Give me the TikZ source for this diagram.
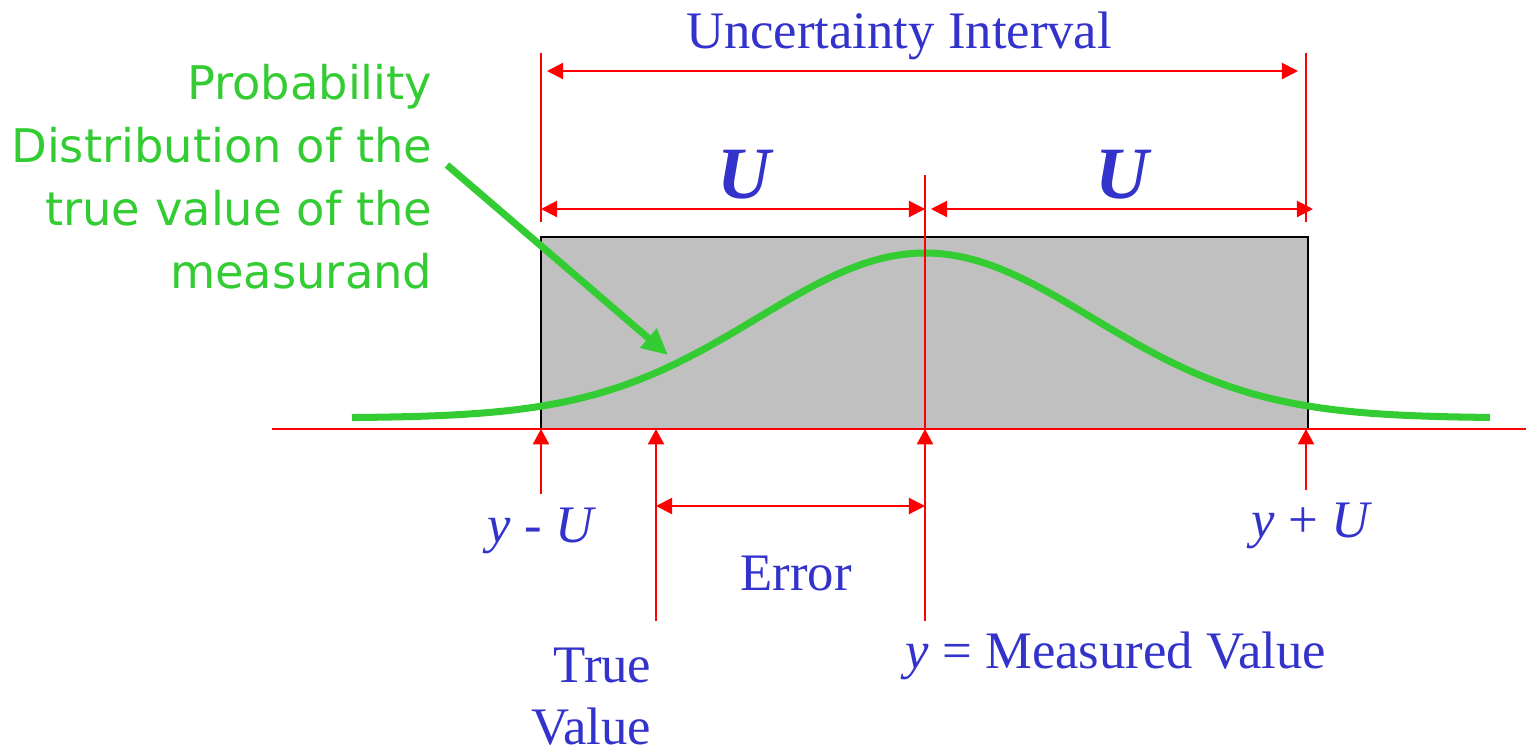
\documentclass[tikz,border=0pt]{standalone}
\usepackage{fontspec}
\setmainfont{Liberation Serif}
\newfontfamily\labelsans{DejaVu Sans}
\usetikzlibrary{arrows.meta, positioning}
\definecolor{txtblue}{RGB}{51,51,204}
\definecolor{pdfgreen}{RGB}{51,204,51}
\definecolor{bandgray}{RGB}{192,192,192}
\tikzstyle{redline} = [red, line width=0.6pt]

\begin{document}
\begin{tikzpicture}[
  dim/.style={redline, {Triangle[length=4.6pt, width=4.6pt]}-{Triangle[length=4.6pt, width=4.6pt]}},
  uparrow/.style={redline, -{Triangle[length=4.4pt, width=4.6pt]}},
  lbl/.style={txtblue, inner sep=0pt, font=\fontsize{15}{17.6}\selectfont},
  ulbl/.style={txtblue, inner sep=0pt, font=\fontsize{21}{24}\selectfont\bfseries\itshape},
  greenlbl/.style={pdfgreen, inner sep=0pt, align=right, font=\labelsans\fontsize{13.2}{17.9}\selectfont}
]
\useasboundingbox (0,0) rectangle (15.26,7.52);

% Shaded interval
\fill[bandgray] (5.41,3.23) rectangle (13.08,5.15);
\draw[black, line width=0.8pt] (5.41,3.23) rectangle (13.08,5.15);

% Points on the axis
\coordinate (ax l) at (2.72,3.23);
\coordinate (ax r) at (15.26,3.23);
\coordinate (yl) at (5.41,3.23);
\coordinate (tv) at (6.56,3.23);
\coordinate (ym) at (9.25,3.23);
\coordinate (yr) at (13.06,3.23);

% Free ends of the red lines
\coordinate (lt) at (5.41,6.99);
\coordinate (lb) at (5.41,5.30);
\coordinate (rt) at (13.06,6.99);
\coordinate (rb) at (13.06,5.30);
\coordinate (mt) at (9.25,5.77);
\coordinate (mb) at (9.25,1.31);
\coordinate (yl b) at (5.41,2.58);
\coordinate (tv b) at (6.56,1.31);
\coordinate (yr b) at (13.06,2.62);
\coordinate (ui l) at (5.41,6.81);
\coordinate (ui r) at (13.06,6.81);
\coordinate (ul l) at (5.41,5.43);
\coordinate (ul r) at (9.25,5.43);
\coordinate (ur l) at (9.31,5.43);
\coordinate (ur r) at (13.13,5.43);
\coordinate (er l) at (6.56,2.46);
\coordinate (er r) at (9.25,2.46);

% Axis
\draw[redline] (ax l) -- (ax r);

% Probability distribution
\draw[pdfgreen, line width=2pt, domain=3.52:14.90, samples=120, smooth]
  plot (\x, {3.34+1.65*exp(-((\x-9.25)^2)/5.6)});

% Limits and dimension arrows
\draw[redline] (lt) -- (lb);
\draw[redline] (rt) -- (rb);
\draw[redline] (mt) -- (ym);
\draw[dim, shorten <=0.06cm, shorten >=0.08cm] (ui l) -- (ui r);
\draw[dim] (ul l) -- (ul r);
\draw[dim] (ur l) -- (ur r);
\draw[dim] (er l) -- (er r);

\draw[uparrow] (yl b) -- (yl);
\draw[uparrow] (tv b) -- (tv);
\draw[uparrow] (mb) -- (ym);
\draw[uparrow] (yr b) -- (yr);

% Labels
\node[lbl, anchor=base] (ui) at (8.99,7.04) {Uncertainty Interval};
\node[ulbl, anchor=base] (ua) at (7.44,5.54) {U};
\node[ulbl, anchor=base] (ub) at (11.22,5.54) {U};
\node[lbl, anchor=base] (ylo) at (5.42,2.10) {\textit{y} - \textit{U}};
\node[lbl, anchor=base] (yhi) at (13.12,2.15) {\textit{y} + \textit{U}};
\node[lbl, anchor=base] (err) at (7.96,1.62) {Error};
\node[lbl, anchor=base] (meas) at (11.16,0.84) {\textit{y} = Measured Value};
\node[lbl, align=right, anchor=base east] (true) at (6.52,0.08) {True\\Value};

% Pointer to the curve
\node[greenlbl, anchor=base east] (pdf) at (4.33,4.64)
  {Probability\\Distribution of the\\true value of the\\measurand};
\coordinate (pa) at (4.47,5.87);
\coordinate (pb) at (6.68,3.97);
\draw[pdfgreen, line width=2pt, -{Triangle[length=0.26cm, width=0.24cm]}] (pa) -- (pb);

\end{tikzpicture}
\end{document}
